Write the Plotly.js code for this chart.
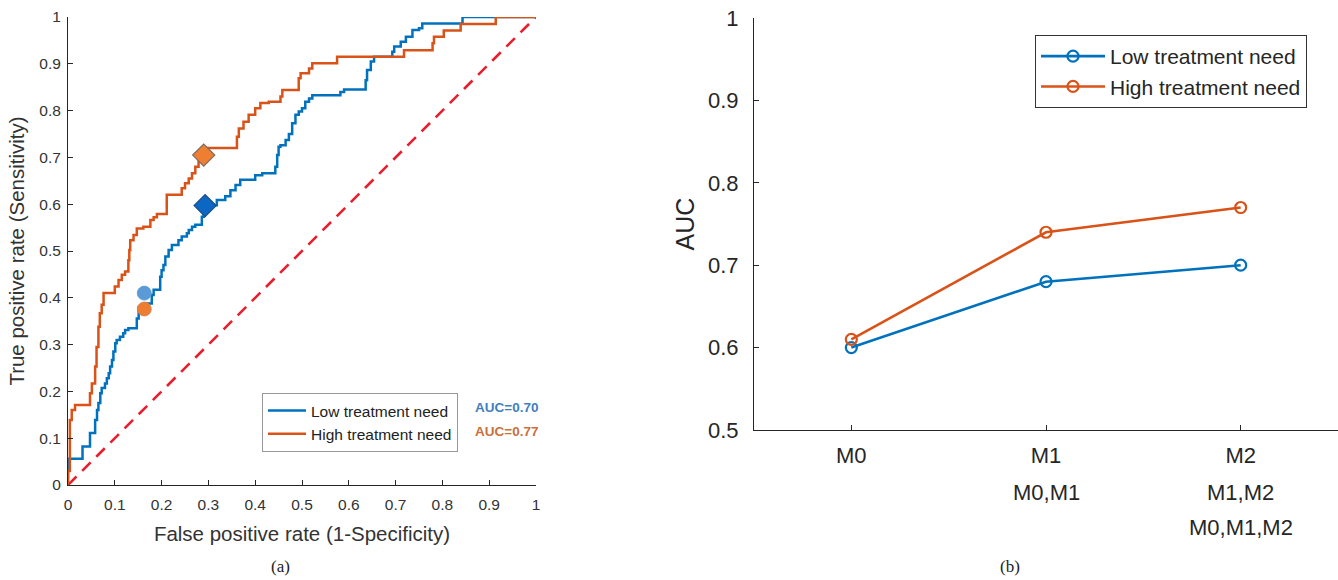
<!DOCTYPE html>
<html><head><meta charset="utf-8">
<script src="https://cdn.plot.ly/plotly-3.0.1.min.js"></script>
<style>html,body{margin:0;padding:0;background:#fff}#chart{width:1338px;height:580px}</style>
</head><body><div id="chart"></div>
<script>
// ---- Panel (a): ROC curves (step vertices: FPR at end of each horizontal run, TPR level) ----
const lowFPR = [0,0.031,0.047,0.058,0.062,0.065,0.069,0.072,0.079,0.083,0.087,0.090,0.094,0.097,0.101,0.104,0.111,0.118,0.122,0.129,0.147,0.151,0.165,0.179,0.183,0.197,0.200,0.204,0.208,0.215,0.222,0.236,0.243,0.254,0.258,0.265,0.272,0.286,0.290,0.318,0.336,0.347,0.358,0.368,0.375,0.400,0.415,0.443,0.447,0.450,0.454,0.465,0.472,0.479,0.486,0.493,0.500,0.507,0.515,0.522,0.582,0.590,0.636,0.639,0.647,0.654,0.693,0.697,0.711,0.722,0.736,0.750,0.757,0.843,1.0];
const lowTPR = [0,0.056,0.082,0.111,0.139,0.160,0.175,0.196,0.207,0.217,0.228,0.239,0.253,0.267,0.285,0.303,0.310,0.317,0.324,0.331,0.335,0.356,0.380,0.388,0.406,0.417,0.445,0.459,0.470,0.488,0.502,0.513,0.523,0.531,0.538,0.545,0.552,0.556,0.573,0.598,0.609,0.617,0.630,0.641,0.652,0.652,0.662,0.666,0.680,0.705,0.723,0.726,0.737,0.750,0.773,0.791,0.798,0.805,0.819,0.826,0.833,0.840,0.845,0.865,0.887,0.905,0.915,0.926,0.937,0.947,0.958,0.972,0.976,0.986,1.0];
const highFPR = [0,0.004,0.008,0.015,0.047,0.051,0.058,0.061,0.065,0.068,0.072,0.076,0.100,0.108,0.115,0.122,0.129,0.131,0.133,0.140,0.147,0.161,0.176,0.183,0.190,0.211,0.243,0.250,0.258,0.265,0.272,0.279,0.283,0.290,0.361,0.365,0.375,0.386,0.400,0.411,0.429,0.454,0.458,0.493,0.497,0.515,0.522,0.575,0.718,0.779,0.782,0.803,0.839,0.914,1.0];
const highTPR = [0,0.030,0.139,0.160,0.171,0.196,0.217,0.253,0.295,0.338,0.367,0.385,0.410,0.424,0.438,0.449,0.456,0.480,0.502,0.523,0.534,0.548,0.552,0.566,0.572,0.579,0.620,0.634,0.645,0.655,0.666,0.680,0.692,0.705,0.720,0.744,0.762,0.776,0.791,0.805,0.816,0.819,0.830,0.844,0.869,0.880,0.890,0.901,0.915,0.929,0.944,0.958,0.971,0.985,1.0];
const chanceX = [0, 1];
const chanceY = [0, 1];
const opDiamondX = [0.293, 0.290];   // low, high
const opDiamondY = [0.597, 0.705];
const opCircleX = [0.163, 0.163];    // low, high
const opCircleY = [0.410, 0.376];
const seriesNames = ['Low treatment need', 'High treatment need'];
const aucLabels = ['AUC=0.70', 'AUC=0.77'];

// ---- Panel (b): AUC by model ----
const modelPos = [1, 2, 3];
const modelLine1 = ['M0', 'M1', 'M2'];
const modelLine2 = ['', 'M0,M1', 'M1,M2'];
const modelLine3 = ['', '', 'M0,M1,M2'];
const aucLow = [0.60, 0.68, 0.70];
const aucHigh = [0.61, 0.74, 0.77];

const BLUE = '#0072BD', ORANGE = '#D95319';
const FONT = 'Liberation Sans, Arial, sans-serif';
const TXT = '#262626';

const traces = [
  {x: chanceX, y: chanceY, type: 'scatter', mode: 'lines', showlegend: false,
   line: {color: '#E5202E', width: 2.6, dash: '12px,8px'}, xaxis: 'x', yaxis: 'y', hoverinfo: 'skip'},
  {x: lowFPR, y: lowTPR, type: 'scatter', mode: 'lines', name: seriesNames[0],
   line: {color: BLUE, width: 2.5, shape: 'vh'}, xaxis: 'x', yaxis: 'y', legend: 'legend'},
  {x: highFPR, y: highTPR, type: 'scatter', mode: 'lines', name: seriesNames[1],
   line: {color: ORANGE, width: 2.5, shape: 'vh'}, xaxis: 'x', yaxis: 'y', legend: 'legend'},
  {x: opDiamondX, y: opDiamondY, type: 'scatter', mode: 'markers', showlegend: false,
   marker: {symbol: 'diamond', size: 17, color: ['#0B66C4', '#EE7E32'],
            line: {color: ['#1F4E85', '#7F6A5C'], width: 1.2}}, xaxis: 'x', yaxis: 'y'},
  {x: opCircleX, y: opCircleY, type: 'scatter', mode: 'markers', showlegend: false,
   marker: {symbol: 'circle', size: 14, color: ['#5B9BD5', '#ED7D31'],
            line: {color: ['#5B9BD5', '#D08050'], width: 0.8}}, xaxis: 'x', yaxis: 'y'},
  {x: modelPos, y: aucLow, type: 'scatter', mode: 'lines+markers', name: seriesNames[0],
   line: {color: BLUE, width: 2.6}, marker: {symbol: 'circle-open', size: 11, color: BLUE, line: {width: 2.2}},
   xaxis: 'x2', yaxis: 'y2', legend: 'legend2'},
  {x: modelPos, y: aucHigh, type: 'scatter', mode: 'lines+markers', name: seriesNames[1],
   line: {color: ORANGE, width: 2.6}, marker: {symbol: 'circle-open', size: 11, color: ORANGE, line: {width: 2.2}},
   xaxis: 'x2', yaxis: 'y2', legend: 'legend2'}
];

const annotations = [];
// AUC labels next to left legend
aucLabels.forEach((t, i) => annotations.push({
  text: '<b>' + t + '</b>', xref: 'paper', yref: 'paper', x: 473/1338, y: 1 - (407 + i*24)/580,
  xanchor: 'left', yanchor: 'middle', showarrow: false,
  font: {family: FONT, size: 13.5, color: i === 0 ? '#3F7FC1' : '#C8713D'}
}));
// extra lines of category labels (panel b)
modelPos.forEach((p, i) => {
  if (modelLine2[i]) annotations.push({text: modelLine2[i], xref: 'x2', yref: 'paper', x: p, y: 1 - 492/580,
    xanchor: 'center', yanchor: 'middle', showarrow: false, font: {family: FONT, size: 22, color: TXT}});
  if (modelLine3[i]) annotations.push({text: modelLine3[i], xref: 'x2', yref: 'paper', x: p, y: 1 - 527/580,
    xanchor: 'center', yanchor: 'middle', showarrow: false, font: {family: FONT, size: 22, color: TXT}});
});
// captions
annotations.push({text: '(a)', xref: 'paper', yref: 'paper', x: 280/1338, y: 1 - 566/580, xanchor: 'center', yanchor: 'middle',
  showarrow: false, font: {family: 'Liberation Serif, Times New Roman, serif', size: 17, color: '#222'}});
annotations.push({text: '(b)', xref: 'paper', yref: 'paper', x: 1010/1338, y: 1 - 566/580, xanchor: 'center', yanchor: 'middle',
  showarrow: false, font: {family: 'Liberation Serif, Times New Roman, serif', size: 17, color: '#222'}});

const axBase = {showgrid: false, zeroline: false, showline: true, linecolor: TXT, linewidth: 1,
  ticks: 'inside', ticklen: 5, tickcolor: TXT, mirror: false, fixedrange: true};

const layout = {
  width: 1338, height: 580,
  margin: {l: 0, r: 0, t: 0, b: 0},
  paper_bgcolor: '#fff', plot_bgcolor: 'rgba(0,0,0,0)',
  font: {family: FONT, color: TXT},
  xaxis: Object.assign({}, axBase, {domain: [68/1338, 536/1338], range: [0, 1], dtick: 0.1, tick0: 0, anchor: 'y',
    tickfont: {size: 15.5, color: '#333'}, ticklabelstandoff: 5,
    title: {text: 'False positive rate (1-Specificity)', font: {size: 20.5, color: '#333'}, standoff: 15}}),
  yaxis: Object.assign({}, axBase, {domain: [1 - 485/580, 1 - 17/580], range: [0, 1], dtick: 0.1, tick0: 0, anchor: 'x',
    tickfont: {size: 15.5, color: '#333'}, ticklabelstandoff: 3,
    title: {text: 'True positive rate (Sensitivity)', font: {size: 20.5, color: '#333'}, standoff: 9}}),
  xaxis2: Object.assign({}, axBase, {domain: [754/1338, 1], range: [0.5, 3.5], tickvals: modelPos, ticktext: modelLine1,
    anchor: 'y2', tickfont: {size: 22, color: TXT}, ticklabelstandoff: 6}),
  yaxis2: Object.assign({}, axBase, {domain: [1 - 430/580, 1 - 18/580], range: [0.5, 1], dtick: 0.1, tick0: 0.5, anchor: 'x2',
    tickfont: {size: 22, color: TXT}, ticklabelstandoff: 10,
    title: {text: 'AUC', font: {size: 25, color: TXT}, standoff: 6}}),
  legend: {x: 262/1338, y: 1 - 393/580, xanchor: 'left', yanchor: 'top', bgcolor: '#fff',
    bordercolor: '#999', borderwidth: 1, font: {size: 15.5, color: '#222'}, tracegroupgap: 0, itemwidth: 38},
  legend2: {x: 1035/1338, y: 1 - 35/580, xanchor: 'left', yanchor: 'top', bgcolor: '#fff',
    bordercolor: '#333', borderwidth: 1, font: {size: 21, color: TXT}, tracegroupgap: 0, itemwidth: 64},
  annotations: annotations,
  showlegend: true
};

Plotly.newPlot('chart', traces, layout, {staticPlot: true, displayModeBar: false});
</script></body></html>
